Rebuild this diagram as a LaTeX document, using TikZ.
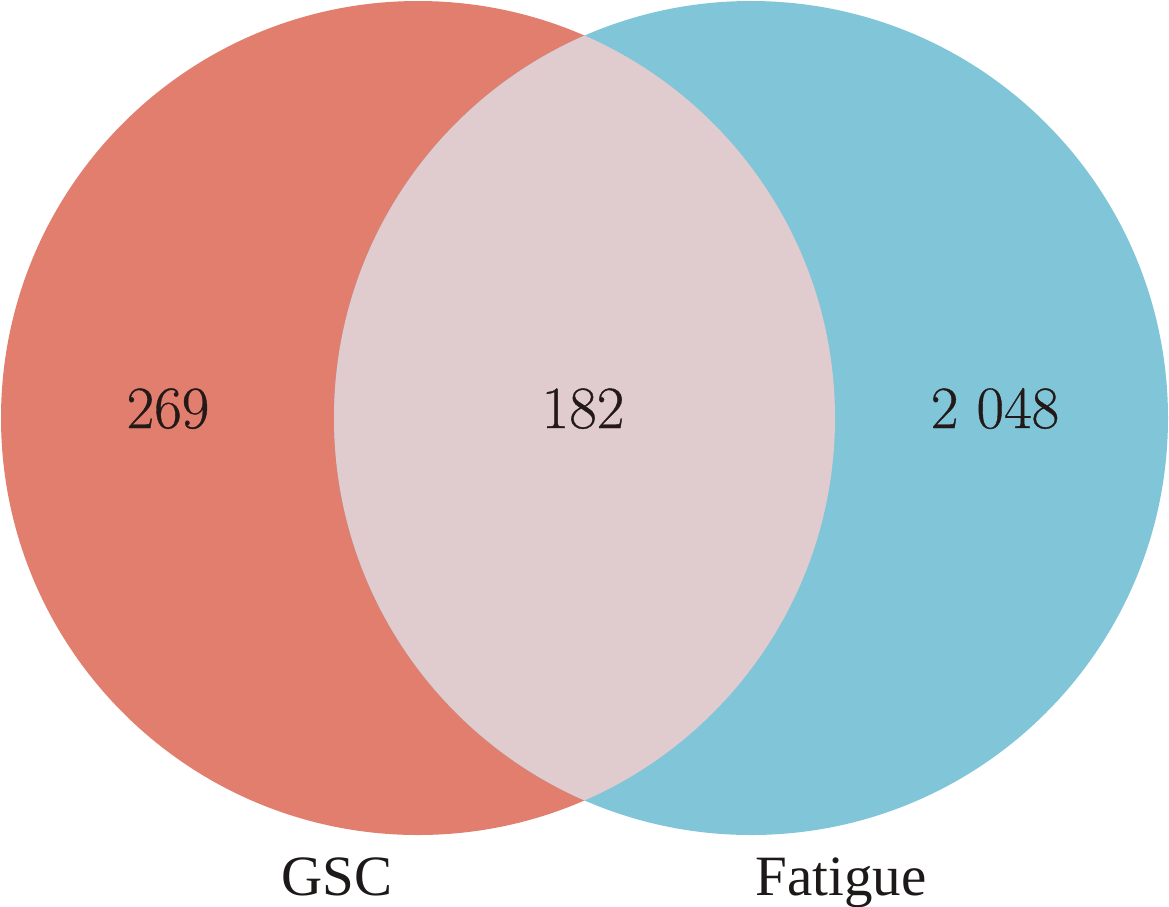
\documentclass[tikz,border=0pt]{standalone}
\usepackage{fontspec}
\newfontfamily\labfont{Liberation Serif}
\newfontfamily\numfont{Latin Modern Roman}[FakeBold=0.6]
\definecolor{gscred}{RGB}{225,126,110}
\definecolor{fatblue}{RGB}{128,198,216}
\definecolor{lenscol}{RGB}{224,203,207}
\begin{document}
\begin{tikzpicture}[x=1pt,y=-1pt,
  num/.style={anchor=base,inner sep=0pt,font=\numfont\fontsize{60}{64}\selectfont,text={rgb,255:red,35;green,25;blue,25}},
  lab/.style={anchor=base,inner sep=0pt,font=\labfont\fontsize{57}{62}\selectfont,text={rgb,255:red,30;green,25;blue,25}}]
\useasboundingbox (0,0) rectangle (1169,906);
\fill[gscred] (418,418) circle[radius=417];
\fill[fatblue] (751,418) circle[radius=417];
\begin{scope}
  \clip (418,418) circle[radius=417];
  \fill[lenscol] (751,418) circle[radius=417];
\end{scope}
\node[num] (n1) at (168,428) {269};
\node[num] (n2) at (583,428) {182};
\node[num] (n3) at (995,428) {2 048};
\node[lab] (l1) at (337,895) {GSC};
\node[lab] (l2) at (841,895) {Fatigue};
\end{tikzpicture}
\end{document}
